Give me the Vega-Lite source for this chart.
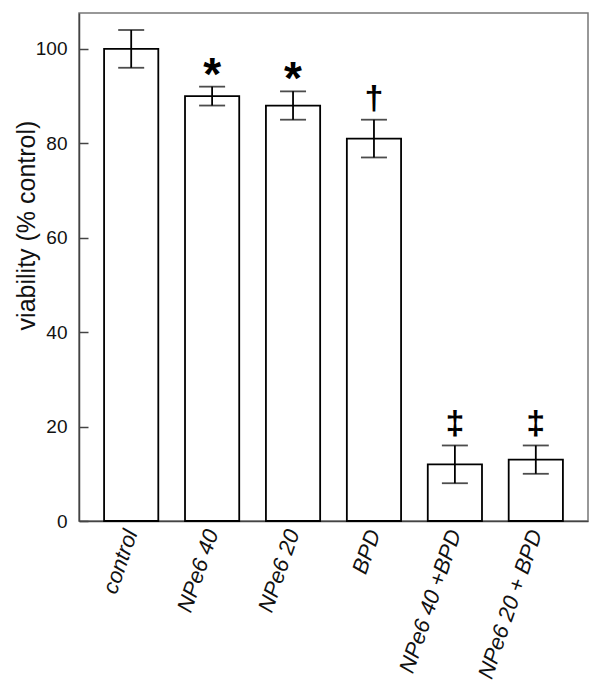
{
  "$schema": "https://vega.github.io/schema/vega-lite/v6.json",
  "autosize": {"type": "none"},
  "padding": {"left": 79, "top": 13, "right": 14, "bottom": 163},
  "width": 509,
  "height": 508,
  "background": "white",
  "config": {
    "font": "Liberation Sans",
    "view": {"stroke": "#777", "strokeWidth": 1.5}
  },
  "data": {
    "values": [
      {"cat": "control", "v": 100, "lo": 96, "hi": 104, "sig": ""},
      {"cat": "NPe6 40", "v": 90, "lo": 88, "hi": 92, "sig": "*"},
      {"cat": "NPe6 20", "v": 88, "lo": 85, "hi": 91, "sig": "*"},
      {"cat": "BPD", "v": 81, "lo": 77, "hi": 85, "sig": "†"},
      {"cat": "NPe6 40 +BPD", "v": 12, "lo": 8, "hi": 16, "sig": "‡"},
      {"cat": "NPe6 20 + BPD", "v": 13, "lo": 10, "hi": 16, "sig": "‡"}
    ]
  },
  "encoding": {
    "x": {
      "field": "cat",
      "type": "nominal",
      "sort": null,
      "scale": {"paddingInner": 0.33, "paddingOuter": 0.31},
      "axis": {
        "title": null,
        "ticks": false,
        "labelAngle": -71,
        "labelFontSize": 22,
        "labelFontStyle": "italic",
        "labelColor": "#111",
        "labelPadding": 9,
        "domainColor": "#444",
        "domainWidth": 1.5
      }
    }
  },
  "layer": [
    {
      "mark": {"type": "bar", "fill": "white", "stroke": "black", "strokeWidth": 1.8},
      "encoding": {
        "y": {
          "field": "v",
          "type": "quantitative",
          "scale": {"domain": [0, 107.6], "nice": false},
          "axis": {
            "title": "viability (% control)",
            "titleFontSize": 25,
            "titleFontWeight": "normal",
            "titleColor": "#111",
            "titleAngle": -90,
            "titleAlign": "center",
            "titleBaseline": "alphabetic",
            "titleX": -45,
            "titleY": 212,
            "values": [0, 20, 40, 60, 80, 100],
            "grid": false,
            "tickSize": -9,
            "tickColor": "#444",
            "tickWidth": 1.5,
            "labelFontSize": 19,
            "labelColor": "#111",
            "labelPadding": 21,
            "domainColor": "#444",
            "domainWidth": 1.5
          }
        }
      }
    },
    {
      "mark": {"type": "rule", "color": "black", "strokeWidth": 1.8},
      "encoding": {
        "y": {"field": "lo", "type": "quantitative"},
        "y2": {"field": "hi"}
      }
    },
    {
      "mark": {"type": "tick", "color": "black", "size": 26, "thickness": 1.8},
      "encoding": {"y": {"field": "lo", "type": "quantitative"}}
    },
    {
      "mark": {"type": "tick", "color": "black", "size": 26, "thickness": 1.8},
      "encoding": {"y": {"field": "hi", "type": "quantitative"}}
    },
    {
      "transform": [{"filter": "datum.sig == '*'"}],
      "mark": {"type": "text", "fontSize": 46, "fontWeight": "bold", "baseline": "alphabetic", "dy": 3, "color": "black"},
      "encoding": {
        "y": {"field": "hi", "type": "quantitative"},
        "text": {"field": "sig"}
      }
    },
    {
      "transform": [{"filter": "datum.sig == '†' || datum.sig == '‡'"}],
      "mark": {"type": "text", "fontSize": 34, "fontWeight": "bold", "baseline": "alphabetic", "dy": -11, "color": "black"},
      "encoding": {
        "y": {"field": "hi", "type": "quantitative"},
        "text": {"field": "sig"}
      }
    }
  ]
}
